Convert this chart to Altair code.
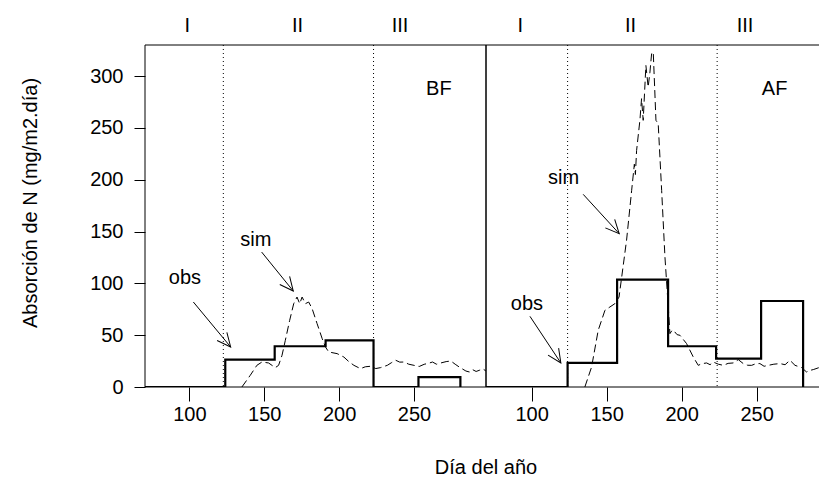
import math
import altair as alt
import pandas as pd

FONT = "Liberation Sans"
FS = 20

# ---------------- data ----------------
x_ticks = [100, 150, 200, 250]
y_ticks = [0, 50, 100, 150, 200, 250, 300]
y_domain = [0, 330]
bf_x_domain = [70.4, 298.1]
af_x_domain = [69.6, 291.6]

obs_day = [60, 124, 157, 191, 223, 253, 281]
bf_obs = [0, 26.4, 39.3, 45.0, 0, 9.6, 0]
af_obs = [0, 23.2, 103.6, 39.3, 27.4, 83.0, 0]

bf_sim_day = [135.1, 140.7, 145.1, 148.5, 152.9, 157.4, 159.6, 161.9, 164.1, 167.0,
              169.7, 171.9, 173.7, 175.3, 177.5, 179.7, 182.0, 185.3, 188.7, 190.9,
              193.1, 198.7, 203.2, 206.5, 209.9, 214.3, 217.5, 221.0, 224.5, 227.7,
              232.2, 235.0, 237.8, 240.5, 243.4, 246.5, 250.0, 253.5, 256.8, 259.5,
              262.4, 265.0, 268.0, 271.5, 274.6, 277.5, 280.2, 284.7, 287.0, 289.1,
              291.5, 293.6, 296.0, 298.0]
bf_sim = [0, 11.3, 20.9, 24.1, 23.2, 18.7, 20.9, 30.6, 45.0, 64.3,
          80.4, 86.8, 80.4, 86.8, 80.4, 82.0, 75.6, 61.2, 46.7, 38.6,
          33.8, 32.2, 28.9, 24.5, 20.9, 17.7, 19.5, 20.0, 17.8, 18.7,
          20.9, 23.5, 25.8, 24.0, 24.1, 22.0, 20.9, 19.8, 21.9, 22.8,
          24.1, 22.0, 23.2, 24.5, 25.1, 22.0, 19.3, 15.4, 14.5, 16.8,
          15.0, 16.1, 17.5, 15.5]

af_sim_day = [135.5, 140.0, 144.4, 148.9, 152.2, 155.5, 158.3, 163.3, 166.7, 168.5,
              169.2, 170.0, 172.2, 173.3, 174.4, 176.2, 177.7, 178.9, 180.0, 181.1,
              182.9, 184.4, 186.7, 188.9, 191.1, 192.2, 193.8, 195.5, 197.0, 198.9,
              203.3, 207.8, 211.1, 213.5, 216.7, 219.0, 221.1, 224.5, 227.8, 231.0,
              234.4, 237.8, 241.1, 244.0, 246.7, 249.5, 252.2, 255.0, 257.8, 261.5,
              265.6, 269.0, 272.2, 275.6, 280.0, 283.3, 285.5, 287.8, 291.6]
af_sim = [0, 19.3, 54.7, 74.0, 77.2, 80.4, 86.8, 141.5, 189.7, 215.0,
          205.0, 228.3, 257.3, 278.2, 257.3, 310.3, 289.4, 303.9, 321.6, 323.2,
          257.3, 254.1, 189.7, 125.4, 77.2, 51.5, 55.0, 53.1, 50.5, 49.9,
          41.9, 28.9, 20.9, 22.5, 23.2, 21.5, 24.1, 22.0, 20.9, 22.8,
          23.2, 26.4, 22.6, 21.0, 20.9, 22.5, 22.6, 20.0, 20.9, 22.0,
          22.6, 21.5, 25.8, 20.9, 18.7, 14.5, 16.0, 16.8, 18.7]

bf_phase_lines = [122.7, 223.0]
af_phase_lines = [124.0, 223.7]
phase_names = ["I", "II", "III"]
bf_phase_pos = [98.6, 172.2, 240.7]
af_phase_pos = [92.4, 166.0, 242.3]

note_labels = ["obs", "sim"]
bf_note_x = [97.1, 144.4]
bf_note_y = [99.1, 135.7]
bf_arrow_from = [(102.7, 82.0), (148.3, 130.2)]
bf_arrow_to = [(127.6, 38.6), (169.4, 92.6)]
af_note_x = [96.9, 121.3]
af_note_y = [74.0, 195.5]
af_arrow_from = [(98.9, 68.2), (134.4, 185.9)]
af_arrow_to = [(119.5, 23.2), (158.4, 148.0)]

panel_names = ["BF", "AF"]
panel_name_x = [266.6, 262.0]
panel_name_y = [281.4, 281.4]

W_L, W_R, H = 341, 333, 342
ARROW = "M -0.4226 0.9063 L 0 0 L 0.4226 0.9063"


def panel(xdom, width, obs_vals, sim_day, sim_val, phase_lines, phase_pos,
          note_x, note_y, a_from, a_to, name, name_x, name_y, first):
    xs = alt.Scale(domain=xdom, nice=False, zero=False)
    ys = alt.Scale(domain=y_domain, nice=False, zero=False)
    x_axis = alt.Axis(values=x_ticks, tickSize=14, labelPadding=3, labelFontSize=FS,
                      labelFont=FONT, labelColor="black", tickColor="black",
                      domain=False, grid=False, title=None, labelFlush=False,
                      labelOverlap=False)
    if first:
        y_axis = alt.Axis(values=y_ticks, tickSize=11, labelPadding=11, labelFontSize=FS,
                          labelFont=FONT, labelColor="black", tickColor="black",
                          domain=False, grid=False, title=None, labelFlush=False,
                          labelOverlap=False)
    else:
        y_axis = None

    def X(f):
        return alt.X(f, type="quantitative", scale=xs, axis=x_axis)

    def Y(f):
        return alt.Y(f, type="quantitative", scale=ys, axis=y_axis)

    kx = width / (xdom[1] - xdom[0])
    ky = H / (y_domain[1] - y_domain[0])

    one = pd.DataFrame({"a": [0]})
    layers = []

    obs_df = pd.DataFrame({"day": obs_day, "val": obs_vals})
    layers.append(alt.Chart(obs_df).mark_line(
        interpolate="step-after", color="black", strokeWidth=2.2, clip=True
    ).encode(x=X("day"), y=Y("val")))

    sim_df = pd.DataFrame({"day": sim_day, "val": sim_val})
    layers.append(alt.Chart(sim_df).mark_line(
        color="black", strokeWidth=1, strokeDash=[8, 4], clip=True
    ).encode(x=X("day"), y=Y("val")))

    ph_df = pd.DataFrame({"day": phase_lines})
    layers.append(alt.Chart(ph_df).mark_rule(
        color="black", strokeWidth=1, strokeDash=[1, 3]
    ).encode(x=X("day")))

    pn_df = pd.DataFrame({"day": phase_pos, "name": phase_names})
    layers.append(alt.Chart(pn_df).mark_text(
        font=FONT, fontSize=FS, baseline="alphabetic", align="center", color="black"
    ).encode(x=X("day"), y=alt.value(-13.3), text="name:N"))

    nt_df = pd.DataFrame({"day": note_x, "val": note_y, "lab": note_labels})
    layers.append(alt.Chart(nt_df).mark_text(
        font=FONT, fontSize=FS, baseline="alphabetic", align="center", color="black"
    ).encode(x=X("day"), y=Y("val"), text="lab:N"))

    angs = []
    for (x1, y1), (x2, y2) in zip(a_from, a_to):
        dx = (x2 - x1) * kx
        dy = -(y2 - y1) * ky
        angs.append(math.degrees(math.atan2(dx, -dy)) % 360)
    ar_df = pd.DataFrame({
        "x1": [p[0] for p in a_from], "y1": [p[1] for p in a_from],
        "x2": [p[0] for p in a_to], "y2": [p[1] for p in a_to], "ang": angs,
    })
    layers.append(alt.Chart(ar_df).mark_rule(color="black", strokeWidth=1).encode(
        x=X("x1"), y=Y("y1"), x2="x2:Q", y2="y2:Q"))
    layers.append(alt.Chart(ar_df).mark_point(
        shape=ARROW, size=900, filled=False, color="black", strokeWidth=1, opacity=1
    ).encode(x=X("x2"), y=Y("y2"), angle=alt.Angle("ang:Q", scale=None)))

    nm_df = pd.DataFrame({"day": [name_x], "val": [name_y], "lab": [name]})
    layers.append(alt.Chart(nm_df).mark_text(
        font=FONT, fontSize=FS, baseline="alphabetic", align="center", color="black"
    ).encode(x=X("day"), y=Y("val"), text="lab:N"))

    if first:
        layers.insert(0, alt.Chart(one).mark_rect(opacity=0).encode(
            x=alt.value(-145), x2=alt.value(W_L + W_R),
            y=alt.value(-45), y2=alt.value(H + 92)))
        layers.append(alt.Chart(one).mark_rect(
            fillOpacity=0, stroke="black", strokeWidth=1
        ).encode(x=alt.value(0), x2=alt.value(width), y=alt.value(0), y2=alt.value(H)))
        layers.append(alt.Chart(one).mark_text(
            font=FONT, fontSize=FS, angle=270, baseline="alphabetic", align="center",
            color="black"
        ).encode(x=alt.value(-108), y=alt.value(158),
                 text=alt.value("Absorción de N (mg/m2.día)")))
        layers.append(alt.Chart(one).mark_text(
            font=FONT, fontSize=FS, baseline="alphabetic", align="center", color="black"
        ).encode(x=alt.value(width), y=alt.value(429), text=alt.value("Día del año")))
    else:
        layers.append(alt.Chart(one).mark_rule(color="black", strokeWidth=1).encode(
            x=alt.value(0), x2=alt.value(width), y=alt.value(0)))
        layers.append(alt.Chart(one).mark_rule(color="black", strokeWidth=1).encode(
            x=alt.value(0), x2=alt.value(width), y=alt.value(H)))
        layers.append(alt.Chart(one).mark_rule(color="black", strokeWidth=1).encode(
            x=alt.value(0), y=alt.value(0), y2=alt.value(H)))

    return alt.layer(*layers).properties(width=width, height=H)


left = panel(bf_x_domain, W_L, bf_obs, bf_sim_day, bf_sim, bf_phase_lines, bf_phase_pos,
             bf_note_x, bf_note_y, bf_arrow_from, bf_arrow_to,
             panel_names[0], panel_name_x[0], panel_name_y[0], True)
right = panel(af_x_domain, W_R, af_obs, af_sim_day, af_sim, af_phase_lines, af_phase_pos,
              af_note_x, af_note_y, af_arrow_from, af_arrow_to,
              panel_names[1], panel_name_x[1], panel_name_y[1], False)

chart = alt.hconcat(left, right, spacing=0, bounds="flush").properties(
    padding=0
).configure_view(stroke=None)

chart.save("out.html", embed_options={"renderer": "svg", "actions": False})
